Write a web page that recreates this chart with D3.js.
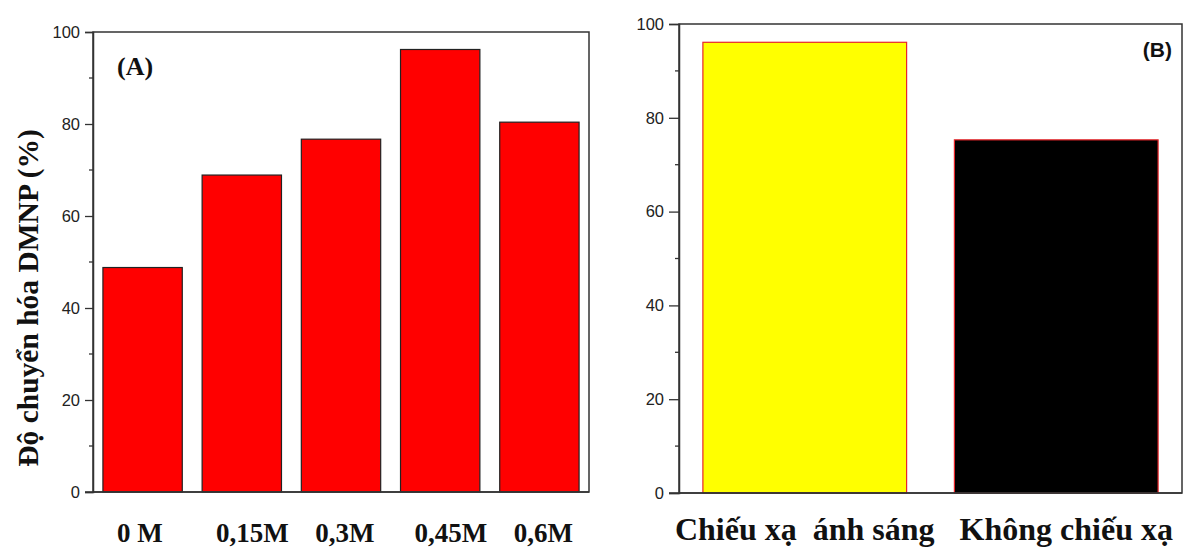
<!DOCTYPE html>
<html><head><meta charset="utf-8">
<script src="https://cdn.jsdelivr.net/npm/d3@7"></script>
<style>
html,body{margin:0;padding:0;background:#fff;}
svg{display:block;}
</style></head>
<body>
<svg id="c" width="1184" height="550"></svg>
<script>
const categoriesA = ["0 M", "0,15M", "0,3M", "0,45M", "0,6M"];
const valuesA = [48.8, 68.9, 76.7, 96.2, 80.4];
const categoriesB = ["Chiếu xạ  ánh sáng", "Không chiếu xạ"];
const valuesB = [96.1, 75.3];
const fillsB = ["#ffff00", "#000000"];
const yTicks = [0, 20, 40, 60, 80, 100];
const yMinor = [10, 30, 50, 70, 90];
const yTitleA = "Độ chuyển hóa DMNP (%)";
const panelLabels = ["(A)", "(B)"];

const svg = d3.select("#c");
const serif = "'Liberation Serif','Times New Roman',serif";
const sans = "'Liberation Sans',Arial,sans-serif";
const axisColor = "#333";

function panel(opts) {
  const g = svg.append("g");
  const x = d3.scaleBand().domain(opts.cats).range([opts.left, opts.right]).paddingInner(opts.pad).paddingOuter(opts.pad / 2);
  const y = d3.scaleLinear().domain([0, 100]).range([opts.bottom, opts.top]);
  g.selectAll("rect.bar").data(opts.vals).join("rect")
    .attr("class", "bar")
    .attr("x", (d, i) => x(opts.cats[i]))
    .attr("width", x.bandwidth())
    .attr("y", d => y(d))
    .attr("height", d => y(0) - y(d))
    .attr("fill", (d, i) => opts.fill(i))
    .attr("stroke", opts.stroke)
    .attr("stroke-width", 1.2);
  g.append("rect").attr("x", opts.left).attr("y", opts.top)
    .attr("width", opts.right - opts.left).attr("height", opts.bottom - opts.top)
    .attr("fill", "none").attr("stroke", axisColor).attr("stroke-width", 1.5);
  const ax = g.append("g").attr("transform", `translate(${opts.left},0)`)
    .call(d3.axisLeft(y).tickValues(yTicks).tickSize(opts.tick).tickPadding(5).tickFormat(d3.format("d")));
  ax.select(".domain").attr("stroke", axisColor).attr("stroke-width", 1.5);
  ax.selectAll(".tick line").attr("stroke", axisColor).attr("stroke-width", 1.3);
  ax.selectAll(".tick text").attr("font-family", sans).attr("font-size", 16.5).attr("fill", "#222");
  g.selectAll("line.minor").data(yMinor).join("line").attr("class", "minor")
    .attr("x1", opts.left - 4).attr("x2", opts.left)
    .attr("y1", d => y(d)).attr("y2", d => y(d))
    .attr("stroke", axisColor).attr("stroke-width", 1.3);
  g.append("line").attr("x1", opts.left - (opts.tick)).attr("x2", opts.right)
    .attr("y1", y(0)).attr("y2", y(0)).attr("stroke", axisColor).attr("stroke-width", 1.5);
  return {g, x, y};
}

// Panel A
const A = panel({cats: categoriesA, vals: valuesA, left: 93, right: 589, top: 32, bottom: 492,
  pad: 0.2, tick: 8, fill: () => "#ff0000", stroke: "#222"});
A.g.selectAll("text.xl").data(categoriesA).join("text").attr("class", "xl")
  .attr("x", d => A.x(d) + 14).attr("y", 542)
  .attr("font-family", serif).attr("font-weight", "bold").attr("font-size", 27)
  .attr("fill", "#111").text(d => d);
A.g.append("text").attr("x", 117).attr("y", 75)
  .attr("font-family", serif).attr("font-weight", "bold").attr("font-size", 26)
  .attr("fill", "#111").text(panelLabels[0]);
A.g.append("text").attr("transform", "translate(38,298) rotate(-90)")
  .attr("text-anchor", "middle")
  .attr("font-family", serif).attr("font-weight", "bold").attr("font-size", 29.5)
  .attr("fill", "#111").text(yTitleA);

// Panel B
const B = panel({cats: categoriesB, vals: valuesB, left: 679, right: 1182, top: 24, bottom: 493,
  pad: 0.19, tick: 10, fill: i => fillsB[i], stroke: "#e8262a"});
B.g.selectAll("text.xl").data(categoriesB).join("text").attr("class", "xl")
  .attr("x", d => B.x(d) + B.x.bandwidth() / 2 + (d === categoriesB[1] ? 10 : 0)).attr("y", 540)
  .attr("text-anchor", "middle")
  .attr("font-family", serif).attr("font-weight", "bold").attr("font-size", 32)
  .attr("fill", "#111").attr("xml:space", "preserve").style("white-space", "pre").text(d => d);
B.g.append("text").attr("x", 1172).attr("y", 57).attr("text-anchor", "end")
  .attr("font-family", sans).attr("font-weight", "bold").attr("font-size", 21)
  .attr("fill", "#111").text(panelLabels[1]);
</script>
</body></html>
